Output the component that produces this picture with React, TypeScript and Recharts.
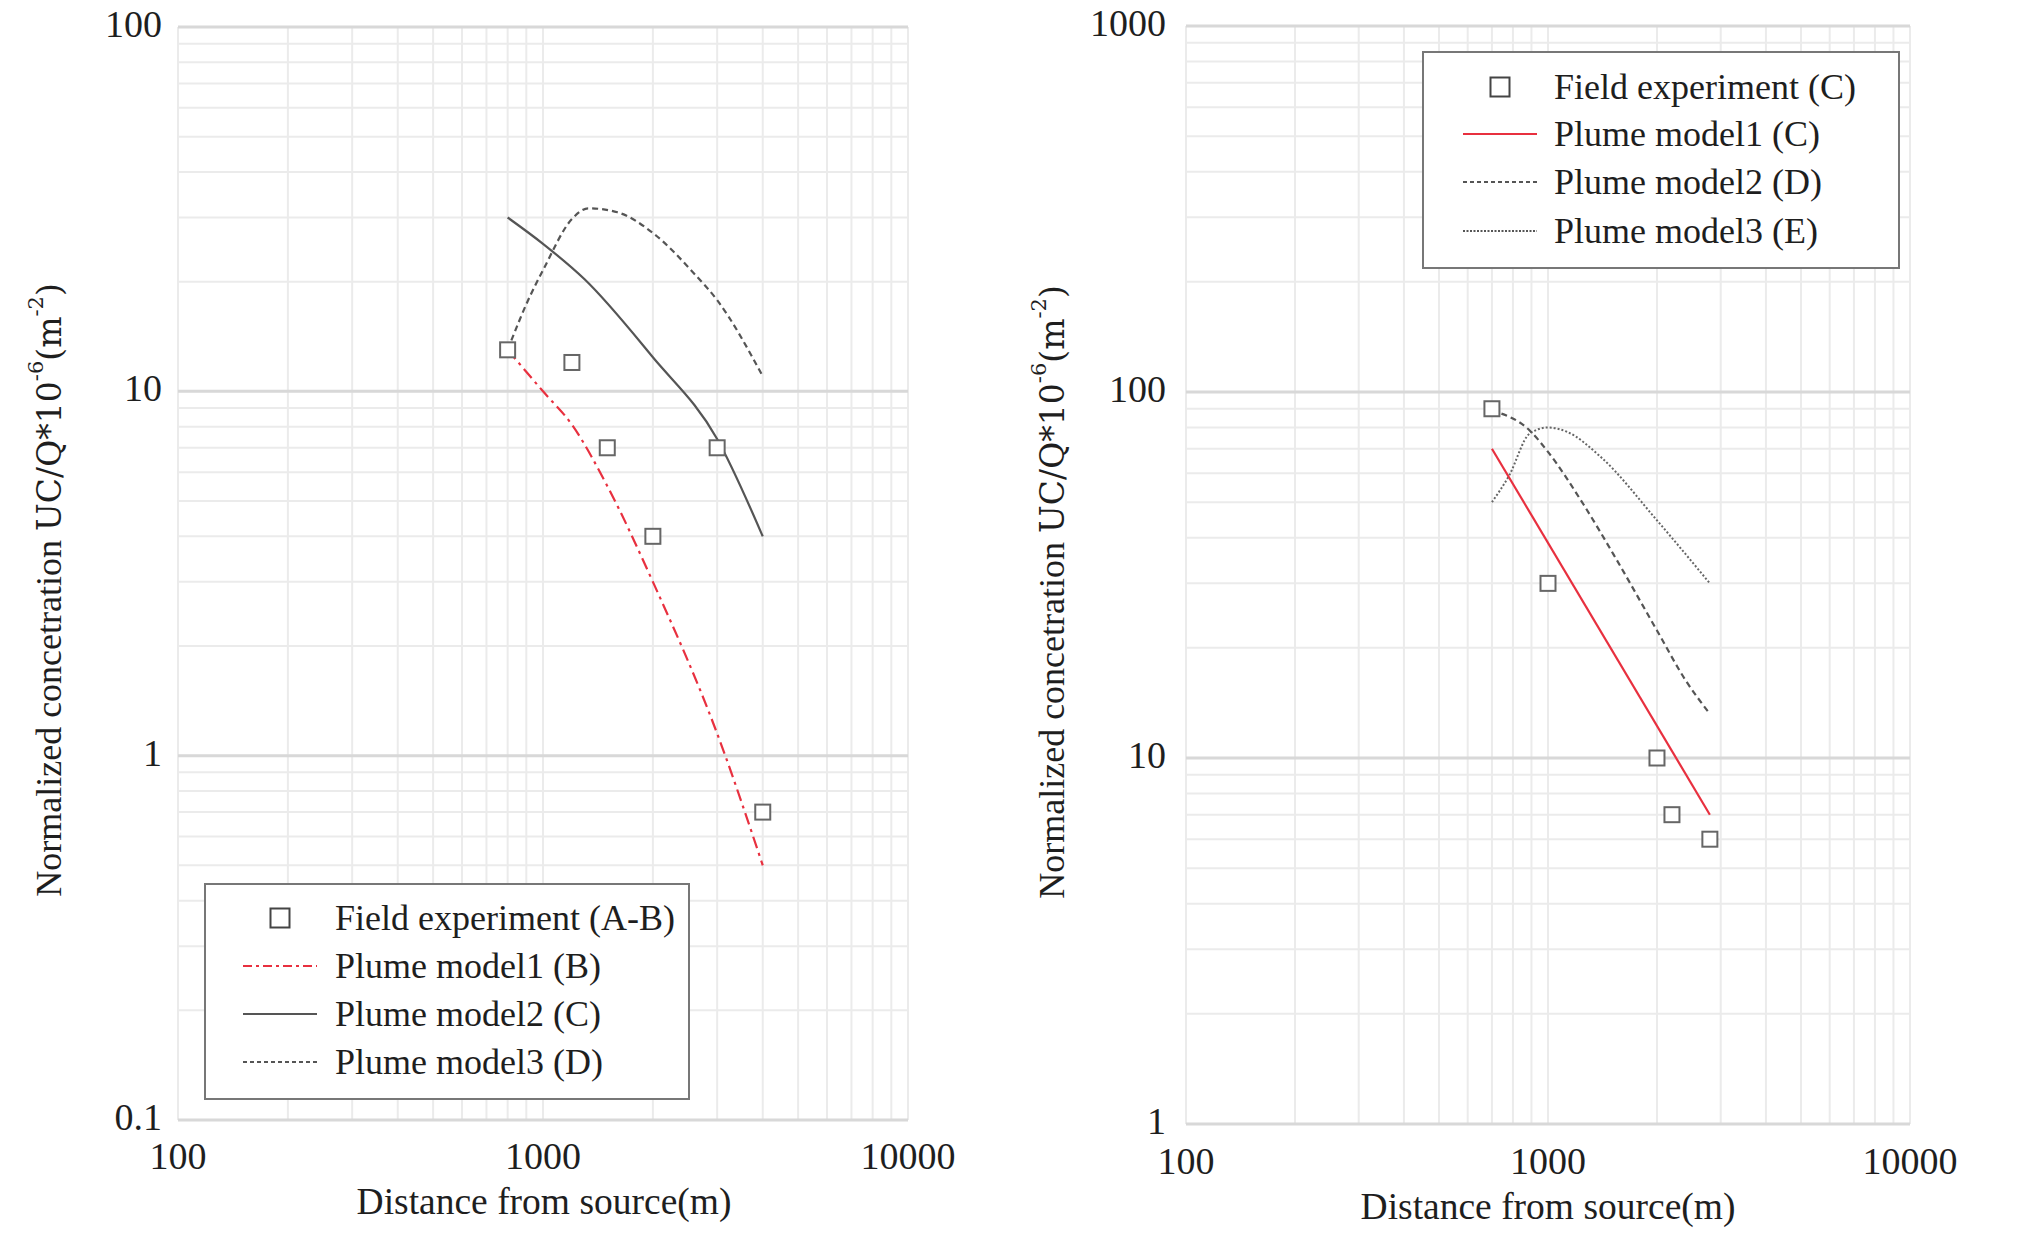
import React from 'react';
import {
  ComposedChart,
  Line,
  Scatter,
  XAxis,
  YAxis,
  CartesianGrid,
  ReferenceLine,
  Customized,
} from 'recharts';

const FONT = '"Liberation Serif", "Times New Roman", serif';
const TEXT = '#1e1e1e';

// ---------- Left panel data ----------
const leftFieldX = [800, 1200, 1500, 2000, 3000, 4000];
const leftFieldY = [13, 12, 7, 4, 7, 0.7];
const leftModel1X = [800, 1000, 1200, 1500, 2000, 3000, 4000];
const leftModel1Y = [13, 10, 8.1, 5.5, 3.0, 1.15, 0.5];
const leftModel2X = [800, 1000, 1300, 2000, 3000, 4000];
const leftModel2Y = [30, 25.4, 20.3, 12.4, 7.4, 4.0];
const leftModel3X = [800, 920, 1000, 1200, 1330, 1600, 2000, 2600, 3000, 4000];
const leftModel3Y = [13, 18.2, 21.5, 29.7, 31.8, 31, 27.2, 21, 17.8, 11];

// ---------- Right panel data ----------
const rightFieldX = [700, 1000, 2000, 2200, 2800];
const rightFieldY = [90, 30, 10, 7, 6];
const rightModel1X = [700, 2800];
const rightModel1Y = [70, 7];
const rightModel2X = [700, 890, 1000, 1250, 1550, 2000, 2400, 2800];
const rightModel2Y = [89, 78.5, 68.6, 49.5, 34.7, 22.3, 16.3, 13.2];
const rightModel3X = [700, 780, 890, 1000, 1130, 1400, 2000, 2800];
const rightModel3Y = [50, 59, 77, 80, 77.8, 66.4, 44.6, 30];

// ---------- Legend labels ----------
const leftNames = ['Field experiment (A-B)', 'Plume model1 (B)', 'Plume model2 (C)', 'Plume model3 (D)'];
const rightNames = ['Field experiment (C)', 'Plume model1 (C)', 'Plume model2 (D)', 'Plume model3 (E)'];

// ---------- Axis ticks ----------
const xMajor = [100, 1000, 10000];
const leftYMajor = [0.1, 1, 10, 100];
const rightYMajor = [1, 10, 100, 1000];
const minorMultipliers = [1, 2, 3, 4, 5, 6, 7, 8, 9];

const buildTicks = (majors: number[]) => {
  const out: number[] = [];
  for (let i = 0; i < majors.length - 1; i++) {
    for (const k of minorMultipliers) out.push(parseFloat((majors[i] * k).toPrecision(6)));
  }
  out.push(majors[majors.length - 1]);
  return out;
};
const xTicks = buildTicks(xMajor);
const leftYTicks = buildTicks(leftYMajor);
const rightYTicks = buildTicks(rightYMajor);

const pts = (xs: number[], ys: number[]) => xs.map((x, i) => ({ x, y: ys[i] }));

const isMajor = (majors: number[], v: number) => majors.some((m) => Math.abs(m - v) / m < 1e-6);

const makeXTick = (dy: number) => (props: any) => {
  const { x, y, payload } = props;
  if (!isMajor(xMajor, payload.value)) return <g />;
  return (
    <text x={x} y={y + dy} textAnchor="middle" dominantBaseline="central" fontFamily={FONT} fontSize={38} fill={TEXT}>
      {payload.value}
    </text>
  );
};

const makeYTick = (majors: number[], dx: number) => (props: any) => {
  const { x, y, payload } = props;
  if (!isMajor(majors, payload.value)) return <g />;
  return (
    <text x={x - dx} y={y - 3} textAnchor="end" dominantBaseline="central" fontFamily={FONT} fontSize={38} fill={TEXT}>
      {payload.value}
    </text>
  );
};

const Square = (props: any) => {
  const { cx, cy } = props;
  if (cx == null || cy == null) return <g />;
  return <rect x={cx - 7.5} y={cy - 7.5} width={15} height={15} fill="#fff" stroke="#666" strokeWidth={2} />;
};

type Item = { name: string; kind: 'square' | 'line'; color?: string; dash?: string; width?: number };

const LegendBox = ({ x, y, w, h, rows, items, sampleX, textX }: any) => (
  <g>
    <rect x={x} y={y} width={w} height={h} fill="#fff" stroke="#777" strokeWidth={2} />
    {items.map((it: Item, i: number) => {
      const cy = rows[i];
      return (
        <g key={i}>
          {it.kind === 'square' ? (
            <rect x={(sampleX[0] + sampleX[1]) / 2 - 9.5} y={cy - 9.5} width={19} height={19} fill="#fff" stroke="#444" strokeWidth={2} />
          ) : (
            <line x1={sampleX[0]} x2={sampleX[1]} y1={cy} y2={cy} stroke={it.color} strokeWidth={it.width || 2} strokeDasharray={it.dash} />
          )}
          <text x={textX} y={cy} dominantBaseline="central" fontFamily={FONT} fontSize={36} fill={TEXT}>
            {it.name}
          </text>
        </g>
      );
    })}
  </g>
);

const YLabel = ({ cx, cy }: { cx: number; cy: number }) => (
  <text
    transform={`translate(${cx}, ${cy}) rotate(-90)`}
    textAnchor="middle"
    dominantBaseline="central"
    fontFamily={FONT}
    fontSize={36}
    fill={TEXT}
  >
    <tspan>Normalized concetration </tspan>
    <tspan fontFamily='"DejaVu Serif", serif' fontSize={33}>UC/Q*10</tspan>
    <tspan fontFamily='"DejaVu Serif", serif' fontSize={21} dy={-13}>-6</tspan>
    <tspan fontFamily='"DejaVu Serif", serif' fontSize={33} dy={13}>(m</tspan>
    <tspan fontFamily='"DejaVu Serif", serif' fontSize={21} dy={-13}>-2</tspan>
    <tspan fontFamily='"DejaVu Serif", serif' fontSize={33} dy={13}>)</tspan>
  </text>
);

const XLabel = ({ cx, cy }: { cx: number; cy: number }) => (
  <text x={cx} y={cy} textAnchor="middle" dominantBaseline="central" fontFamily={FONT} fontSize={37.5} fill={TEXT}>
    Distance from source(m)
  </text>
);

const RED = '#e8303f';
const GRAY = '#555';

const leftItems: Item[] = [
  { name: leftNames[0], kind: 'square' },
  { name: leftNames[1], kind: 'line', color: RED, dash: '9 4 3 4' },
  { name: leftNames[2], kind: 'line', color: GRAY },
  { name: leftNames[3], kind: 'line', color: GRAY, dash: '4 3' },
];
const rightItems: Item[] = [
  { name: rightNames[0], kind: 'square' },
  { name: rightNames[1], kind: 'line', color: RED },
  { name: rightNames[2], kind: 'line', color: GRAY, dash: '4 3' },
  { name: rightNames[3], kind: 'line', color: GRAY, dash: '2 1.5' },
];

export default function App() {
  return (
    <div style={{ position: 'absolute', left: 0, top: 0, width: 2018, height: 1235, background: '#fff' }}>
      {/* Left panel */}
      <div style={{ position: 'absolute', left: 0, top: 0 }}>
        <ComposedChart width={960} height={1235} margin={{ top: 27, right: 52, bottom: 0, left: 0 }}>
          <CartesianGrid stroke="#ebebeb" strokeWidth={2} />
          <XAxis
            type="number"
            dataKey="x"
            scale="log"
            domain={[100, 10000]}
            allowDataOverflow
            ticks={xTicks}
            interval={0}
            tickSize={0}
            tickMargin={0}
            axisLine={false}
            tickLine={false}
            height={115}
            tick={makeXTick(36)}
          />
          <YAxis
            type="number"
            dataKey="y"
            scale="log"
            domain={[0.1, 100]}
            allowDataOverflow
            ticks={leftYTicks}
            interval={0}
            tickSize={0}
            tickMargin={0}
            axisLine={false}
            tickLine={false}
            width={178}
            tick={makeYTick(leftYMajor, 16)}
          />
          {leftYMajor.map((v) => (
            <ReferenceLine key={'ly' + v} y={v} stroke="#d8d8d8" strokeWidth={3} />
          ))}
          <Line data={pts(leftModel2X, leftModel2Y)} dataKey="y" name={leftNames[2]} type="monotone" stroke={GRAY} strokeWidth={2.2} dot={false} isAnimationActive={false} />
          <Line data={pts(leftModel3X, leftModel3Y)} dataKey="y" name={leftNames[3]} type="monotone" stroke={GRAY} strokeWidth={2.2} strokeDasharray="6 4" dot={false} isAnimationActive={false} />
          <Line data={pts(leftModel1X, leftModel1Y)} dataKey="y" name={leftNames[1]} type="monotone" stroke={RED} strokeWidth={2.2} strokeDasharray="12 5 3 5" dot={false} isAnimationActive={false} />
          <Scatter data={pts(leftFieldX, leftFieldY)} dataKey="y" name={leftNames[0]} shape={Square} isAnimationActive={false} />
          <Customized
            component={() => (
              <g>
                <LegendBox x={205} y={884} w={484} h={215} rows={[918, 966, 1014, 1062]} items={leftItems} sampleX={[243, 317]} textX={335} />
                <YLabel cx={49} cy={590} />
                <XLabel cx={544} cy={1201} />
              </g>
            )}
          />
        </ComposedChart>
      </div>

      {/* Right panel */}
      <div style={{ position: 'absolute', left: 1000, top: 0 }}>
        <ComposedChart width={1018} height={1235} margin={{ top: 26, right: 108, bottom: 0, left: 0 }}>
          <CartesianGrid stroke="#ebebeb" strokeWidth={2} />
          <XAxis
            type="number"
            dataKey="x"
            scale="log"
            domain={[100, 10000]}
            allowDataOverflow
            ticks={xTicks}
            interval={0}
            tickSize={0}
            tickMargin={0}
            axisLine={false}
            tickLine={false}
            height={111}
            tick={makeXTick(37)}
          />
          <YAxis
            type="number"
            dataKey="y"
            scale="log"
            domain={[1, 1000]}
            allowDataOverflow
            ticks={rightYTicks}
            interval={0}
            tickSize={0}
            tickMargin={0}
            axisLine={false}
            tickLine={false}
            width={186}
            tick={makeYTick(rightYMajor, 20)}
          />
          {rightYMajor.map((v) => (
            <ReferenceLine key={'ry' + v} y={v} stroke="#d8d8d8" strokeWidth={3} />
          ))}
          <Line data={pts(rightModel3X, rightModel3Y)} dataKey="y" name={rightNames[3]} type="monotone" stroke="#666" strokeWidth={2} strokeDasharray="2 2" dot={false} isAnimationActive={false} />
          <Line data={pts(rightModel2X, rightModel2Y)} dataKey="y" name={rightNames[2]} type="monotone" stroke={GRAY} strokeWidth={2.2} strokeDasharray="6 4" dot={false} isAnimationActive={false} />
          <Line data={pts(rightModel1X, rightModel1Y)} dataKey="y" name={rightNames[1]} type="linear" stroke={RED} strokeWidth={2.2} dot={false} isAnimationActive={false} />
          <Scatter data={pts(rightFieldX, rightFieldY)} dataKey="y" name={rightNames[0]} shape={Square} isAnimationActive={false} />
          <Customized
            component={() => (
              <g>
                <LegendBox x={423} y={52} w={476} h={216} rows={[87, 134, 182, 231]} items={rightItems} sampleX={[463, 537]} textX={554} />
                <YLabel cx={52} cy={592} />
                <XLabel cx={548} cy={1206} />
              </g>
            )}
          />
        </ComposedChart>
      </div>
    </div>
  );
}
